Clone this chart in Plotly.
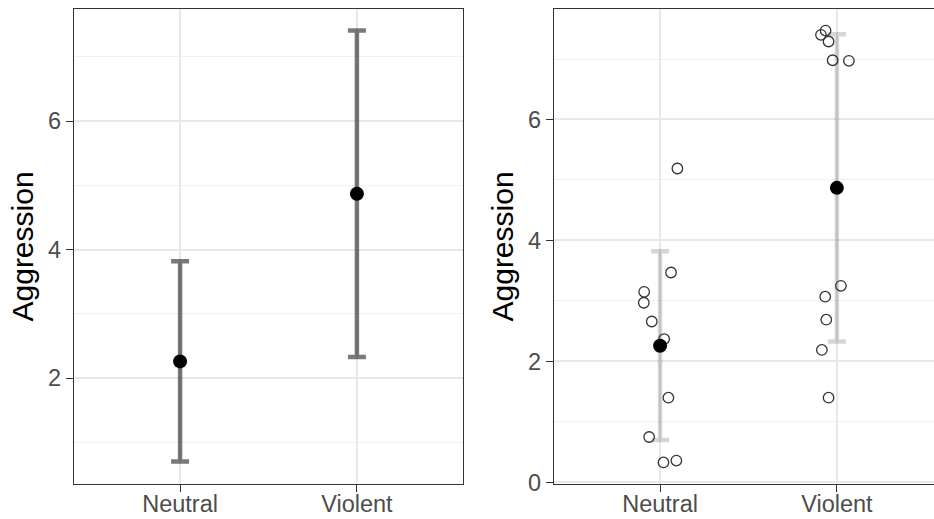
import plotly.graph_objects as go

# ---- data ----
categories = ["Neutral", "Violent"]
category_pos = [1, 2]
group_means = [2.26, 4.87]
group_sd = [1.56, 2.54]

neutral_values = [5.19, 3.47, 3.15, 2.97, 2.66, 2.37, 1.40, 0.75, 0.33, 0.36]
neutral_jitter = [0.098, 0.062, -0.090, -0.092, -0.047, 0.023, 0.047, -0.062, 0.019, 0.092]
violent_values = [7.47, 7.40, 7.29, 6.98, 6.97, 3.25, 3.07, 2.69, 2.19, 1.40]
violent_jitter = [-0.064, -0.090, -0.047, -0.024, 0.068, 0.023, -0.066, -0.060, -0.085, -0.047]

y_title = "Aggression"

FONT = "Liberation Sans, Arial, sans-serif"
W, H = 934, 519

fig = go.Figure()

# ---- left panel: mean +/- SD ----
fig.add_trace(go.Scatter(
    x=category_pos, y=group_means, mode="markers",
    marker=dict(size=14, color="black"),
    error_y=dict(type="data", array=group_sd, visible=True,
                 color="rgba(0,0,0,0.52)", thickness=4.5, width=9),
    xaxis="x", yaxis="y", showlegend=False, hoverinfo="skip"))

# ---- right panel: light error bars, jittered raw data, mean ----
fig.add_trace(go.Scatter(
    x=category_pos, y=group_means, mode="markers",
    marker=dict(size=1, color="rgba(0,0,0,0)"),
    error_y=dict(type="data", array=group_sd, visible=True,
                 color="rgba(0,0,0,0.16)", thickness=4.5, width=9),
    xaxis="x2", yaxis="y2", showlegend=False, hoverinfo="skip"))

jx = [category_pos[0] + j for j in neutral_jitter] + [category_pos[1] + j for j in violent_jitter]
jy = neutral_values + violent_values
fig.add_trace(go.Scatter(
    x=jx, y=jy, mode="markers",
    marker=dict(size=10.5, color="rgba(0,0,0,0)", line=dict(color="#333333", width=1.3)),
    xaxis="x2", yaxis="y2", showlegend=False, hoverinfo="skip"))

fig.add_trace(go.Scatter(
    x=category_pos, y=group_means, mode="markers",
    marker=dict(size=14, color="black"),
    xaxis="x2", yaxis="y2", showlegend=False, hoverinfo="skip"))

tickfont = dict(family=FONT, size=23.5, color="#4d4d4d")

def xaxis_style(domain, rng, anchor):
    return dict(domain=domain, range=rng, anchor=anchor, automargin=False,
                tickmode="array", tickvals=category_pos, ticktext=categories,
                showgrid=True, gridcolor="#e8e8e8", gridwidth=1.5,
                zeroline=False, showline=True, mirror=True,
                linecolor="#333333", linewidth=1.4,
                ticks="outside", ticklen=7, tickcolor="#333333", tickwidth=1.3,
                ticklabelstandoff=-8,
                tickfont=tickfont, fixedrange=True)

def yaxis_style(rng, anchor, mirror):
    return dict(domain=[0, 1], range=rng, anchor=anchor, automargin=False,
                tickmode="linear", tick0=0, dtick=2,
                showgrid=True, gridcolor="#e8e8e8", gridwidth=1.5,
                minor=dict(dtick=1, tick0=0, showgrid=True, gridcolor="#f0f0f0",
                           gridwidth=0.9, ticks=""),
                zeroline=False, showline=True, mirror=mirror,
                linecolor="#333333", linewidth=1.4,
                ticks="outside", ticklen=7, tickcolor="#333333", tickwidth=1.3,
                tickfont=tickfont, fixedrange=True)

fig.update_layout(
    width=W, height=H,
    margin=dict(l=0, r=0, t=9, b=35),
    paper_bgcolor="white", plot_bgcolor="white",
    xaxis=xaxis_style([74 / W, 463 / W], [0.4, 2.6], "y"),
    yaxis=yaxis_style([0.351, 7.746], "x", True),
    xaxis2=xaxis_style([554 / W, 1.0], [0.4, 0.4 + 380 / 176.8], "y2"),
    yaxis2=yaxis_style([-0.027, 7.827], "x2", False),
    annotations=[
        dict(text=y_title, x=22 / W, y=0.5, xref="paper", yref="paper",
             textangle=-90, showarrow=False, xanchor="center", yanchor="middle",
             font=dict(family=FONT, size=30, color="black")),
        dict(text=y_title, x=502 / W, y=0.5, xref="paper", yref="paper",
             textangle=-90, showarrow=False, xanchor="center", yanchor="middle",
             font=dict(family=FONT, size=30, color="black")),
    ],
)

fig.write_html("out.html")
